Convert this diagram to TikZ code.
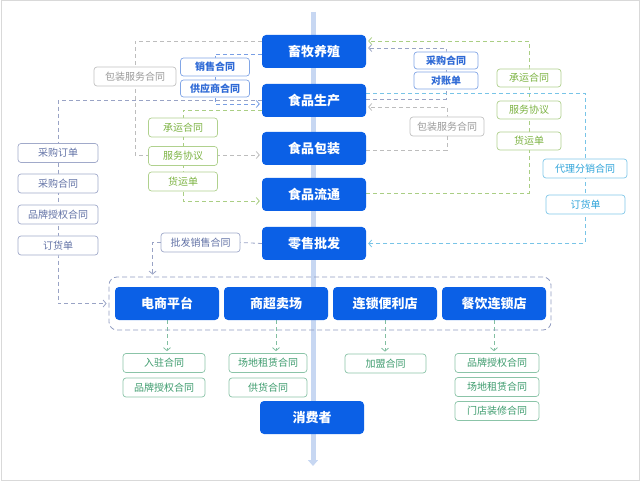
\documentclass[tikz,border=0pt]{standalone}
\usepackage{fontspec}
\setmainfont{Noto Sans CJK SC}
\usetikzlibrary{arrows.meta,positioning,calc}

\definecolor{stageblue}{HTML}{0B60E6}
\definecolor{spineblue}{HTML}{C7D7F2}
\definecolor{docblue}{HTML}{2F6AD6}
\definecolor{docslate}{HTML}{6272A6}
\definecolor{docgray}{HTML}{9A9A9A}
\definecolor{docgreen}{HTML}{7CB342}
\definecolor{docteal}{HTML}{3E9C6E}
\definecolor{doccyan}{HTML}{2FA4DA}

\pgfdeclarelayer{back}
\pgfsetlayers{back,main}

\tikzset{
  stage/.style={fill=stageblue, text=white, rounded corners=4pt, minimum width=104pt,
    minimum height=33pt, inner sep=0pt, font=\fontsize{13}{13}\selectfont\bfseries},
  doc/.style={draw=#1!60, text=#1, fill=white, rounded corners=3pt, line width=0.7pt,
    minimum height=19pt, inner sep=0pt, font=\fontsize{10}{10}\selectfont},
  flow/.style={draw=#1!65, dash pattern=on 4pt off 3pt, line width=0.8pt},
  flowto/.style={flow=#1, -{Straight Barb[length=3pt,width=7pt]}, shorten >=2pt},
}

\begin{document}
\begin{tikzpicture}[x=1pt, y=-1pt]

    \useasboundingbox (0,0) rectangle (640,481);
    \draw[gray!30, line width=1pt] (1,1) rectangle (639,480);

    % supply chain spine
    \coordinate (spinetop) at (313,12);
    \coordinate (spineend) at (313,466);
    \begin{pgfonlayer}{back}
        \draw[spineblue, line width=5pt, -{Triangle[length=6pt,width=10pt]}] (spinetop) -- (spineend);
    \end{pgfonlayer}

    % stages
    \node[stage] (xumu) at (314,51.5) {畜牧养殖};
    \node[stage] (shengchan) at (314,100.5) {食品生产};
    \node[stage] (baozhuang) at (314,148.5) {食品包装};
    \node[stage] (liutong) at (314,194.5) {食品流通};
    \node[stage] (lingshou) at (314,243.5) {零售批发};
    \node[stage] (xiaofei) at (312,417.5) {消费者};

    % retail channels
    \node[draw=docslate!70, dash pattern=on 5pt off 3pt, line width=0.8pt, rounded corners=8pt,
        minimum width=442pt, minimum height=53pt] (retail) at (330,303.5) {};
    \node[stage] (dianshang) at (167,303.5) {电商平台};
    \node[stage] (shangchao) at (276,303.5) {商超卖场};
    \node[stage] (liansuo) at (385,303.5) {连锁便利店};
    \node[stage] (canyin) at (494,303.5) {餐饮连锁店};

    % contracts, left
    \node[doc=docgray, minimum width=82pt] (bzfwA) at (135,76.5) {包装服务合同};
    \node[doc=docblue, minimum width=69pt, minimum height=18pt, font=\fontsize{10}{10}\selectfont\bfseries] (xiaoshou) at (215,67) {销售合同};
    \node[doc=docblue, minimum width=69pt, minimum height=17pt, font=\fontsize{10}{10}\selectfont\bfseries] (gongying) at (215,88.5) {供应商合同};
    \node[doc=docgreen, minimum width=69pt] (cyA) at (183,127.5) {承运合同};
    \node[doc=docgreen, minimum width=69pt] (fwA) at (183,156) {服务协议};
    \node[doc=docgreen, minimum width=69pt] (hyA) at (183,181.5) {货运单};
    \node[doc=docslate, minimum width=80pt] (cgdd) at (58,153) {采购订单};
    \node[doc=docslate, minimum width=80pt] (cghtA) at (58,183.5) {采购合同};
    \node[doc=docslate, minimum width=80pt] (ppsq) at (58,214.5) {品牌授权合同};
    \node[doc=docslate, minimum width=80pt] (dhdA) at (58,245.5) {订货单};
    \node[doc=docslate, minimum width=79pt] (pfxs) at (200.5,242.5) {批发销售合同};

    % contracts, right
    \node[doc=docblue, minimum width=64pt, minimum height=17pt, font=\fontsize{10}{10}\selectfont\bfseries] (cghtB) at (446,60.5) {采购合同};
    \node[doc=docblue, minimum width=64pt, minimum height=17pt, font=\fontsize{10}{10}\selectfont\bfseries] (dzd) at (446,80.5) {对账单};
    \node[doc=docgray, minimum width=74pt] (bzfwB) at (447,126.5) {包装服务合同};
    \node[doc=docgreen, minimum width=64pt, minimum height=18pt] (cyB) at (529,78) {承运合同};
    \node[doc=docgreen, minimum width=64pt, minimum height=18pt] (fwB) at (529,110) {服务协议};
    \node[doc=docgreen, minimum width=64pt, minimum height=18pt] (hyB) at (529,141) {货运单};
    \node[doc=doccyan, minimum width=84pt] (dlfx) at (585,168.5) {代理分销合同};
    \node[doc=doccyan, minimum width=79pt] (dhdB) at (585.5,204.5) {订货单};

    % contracts, retail
    \node[doc=docteal, minimum width=82pt] (ruzhu) at (164,363) {入驻合同};
    \node[doc=docteal, minimum width=82pt] (ppsqA) at (164,387.5) {品牌授权合同};
    \node[doc=docteal, minimum width=78pt] (cdzlA) at (268,363) {场地租赁合同};
    \node[doc=docteal, minimum width=78pt] (gonghuo) at (268,387.5) {供货合同};
    \node[doc=docteal, minimum width=81pt] (jiameng) at (385.5,363.5) {加盟合同};
    \node[doc=docteal, minimum width=84pt] (ppsqB) at (497,363) {品牌授权合同};
    \node[doc=docteal, minimum width=84pt] (cdzlB) at (497,387) {场地租赁合同};
    \node[doc=docteal, minimum width=84pt] (zhuangxiu) at (497,411) {门店装修合同};

    \begin{pgfonlayer}{back}
        % left side flows
        \draw[flowto=docgray] ([yshift=10.5pt]xumu.west) -| (bzfwA.south) |- ([yshift=-6.5pt]baozhuang.west);
        \draw[flowto=docblue] ([yshift=-2.5pt]xumu.west) -| (gongying.south) |- ([yshift=-3.5pt]shengchan.west);
        \draw[flowto=docgreen] ([yshift=-9.5pt]shengchan.west) -| (hyA.south) |- ([yshift=-6.5pt]liutong.west);
        \draw[flowto=docslate] (shengchan.west) -| (dhdA.south) |- (retail.west);
        \draw[flow=docslate] (lingshou.west) -- (pfxs.east);
        \draw[flowto=docslate] (pfxs.west) -| ([xshift=44pt]retail.north west);

        % right side flows
        \draw[flowto=docslate] ([yshift=1.5pt]shengchan.east) -| (cghtB.north) |- ([yshift=3.5pt]xumu.east);
        \draw[flowto=docgray] ([yshift=-1.5pt]baozhuang.east) -| (bzfwB.north) |- ([yshift=-6.5pt]shengchan.east);
        \draw[flowto=docgreen] ([yshift=1.5pt]liutong.east) -| (cyB.north) |- ([yshift=10.5pt]xumu.east);
        \draw[flowto=doccyan] ([yshift=7.5pt]shengchan.east) -| (dlfx.north) |- (lingshou.east);

        % retail flows
        \draw[flowto=docteal] (dianshang.south) -- (dianshang.south |- ruzhu.north);
        \draw[flowto=docteal] (shangchao.south) -- (shangchao.south |- cdzlA.north);
        \draw[flowto=docteal] (liansuo.south) -- (liansuo.south |- jiameng.north);
        \draw[flowto=docteal] (canyin.south) -- (canyin.south |- ppsqB.north);
    \end{pgfonlayer}

\end{tikzpicture}
\end{document}
